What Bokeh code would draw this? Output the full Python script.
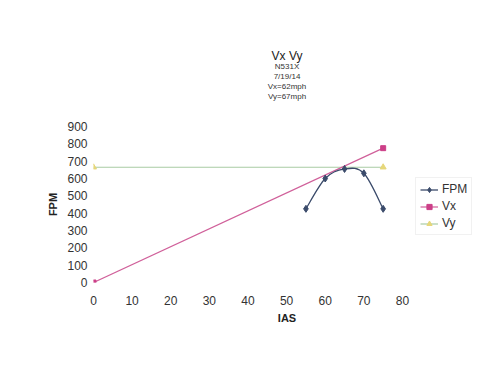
from bokeh.plotting import figure
from bokeh.models import Legend, LegendItem, Range1d, FixedTicker, Title
from bokeh.embed import file_html
from bokeh.resources import INLINE

# Data
fpm_ias = [55, 60, 65, 70, 75]
fpm_vals = [425, 600, 655, 630, 425]
vx_ias = [0, 75]
vx_vals = [0, 775]
vy_ias = [0, 75]
vy_vals = [665, 665]
x_ticks = [0, 10, 20, 30, 40, 50, 60, 70, 80]
y_ticks = [0, 100, 200, 300, 400, 500, 600, 700, 800, 900]
title_text = "Vx Vy"
subtitle_lines = ["N531X", "7/19/14", "Vx=62mph", "Vy=67mph"]
x_label = "IAS"
y_label = "FPM"

FONT = "Liberation Sans"

# frame extends right of the 0-80 axis to hold the legend (no outline drawn)
p = figure(width=484, height=369, frame_width=387, frame_height=156,
           output_backend="svg", toolbar_location=None,
           x_range=Range1d(0, 100.2), y_range=Range1d(0, 900),
           min_border_left=93, min_border_right=4, min_border_top=126, min_border_bottom=87)
p.outline_line_color = None
p.xgrid.grid_line_color = None
p.ygrid.grid_line_color = None
p.background_fill_color = "white"
p.border_fill_color = "white"

for ax in (p.xaxis[0], p.yaxis[0]):
    ax.axis_line_color = None
    ax.major_tick_line_color = None
    ax.minor_tick_line_color = None
    ax.major_tick_out = 0
    ax.major_tick_in = 0
    ax.minor_tick_out = 0
    ax.minor_tick_in = 0
    ax.major_label_text_font = FONT
    ax.major_label_text_font_size = "12px"
    ax.major_label_text_color = "#333333"
    ax.axis_label_text_font = FONT
    ax.axis_label_text_font_size = "11px"
    ax.axis_label_text_font_style = "bold"
    ax.axis_label_text_color = "#222222"
p.xaxis.ticker = FixedTicker(ticks=x_ticks)
p.yaxis.ticker = FixedTicker(ticks=y_ticks)
p.yaxis.axis_label = y_label
p.xaxis.major_label_standoff = 13
p.yaxis.major_label_standoff = 6
p.yaxis.axis_label_standoff = 5

# x axis label centred under the 0-80 part of the frame
p.add_layout(Title(text=x_label, align="center", offset=-38, text_font=FONT, text_font_size="11px",
                   text_font_style="bold", text_color="#222222", standoff=5), "below")

# Smoothed FPM line (Catmull-Rom style bezier segments through the data points)
n = len(fpm_ias)
x0s, y0s, x1s, y1s, cx0s, cy0s, cx1s, cy1s = [], [], [], [], [], [], [], []
for i in range(n - 1):
    xa, ya = fpm_ias[i], fpm_vals[i]
    xb, yb = fpm_ias[i + 1], fpm_vals[i + 1]
    xp, yp = (fpm_ias[i - 1], fpm_vals[i - 1]) if i > 0 else (xa, ya)
    xn, yn = (fpm_ias[i + 2], fpm_vals[i + 2]) if i + 2 < n else (xb, yb)
    x0s.append(xa); y0s.append(ya); x1s.append(xb); y1s.append(yb)
    cx0s.append(xa + (xb - xp) / 6.0); cy0s.append(ya + (yb - yp) / 6.0)
    cx1s.append(xb - (xn - xa) / 6.0); cy1s.append(yb - (yn - ya) / 6.0)

FPM_C = "#3b4b6b"
VX_C = "#d0609a"
VX_M = "#cc3f88"
VY_C = "#a9cba3"
VY_M = "#e6d77a"

vy_line = p.line(vy_ias, vy_vals, line_color=VY_C, line_width=1.2)
vy_pts = p.scatter(vy_ias, vy_vals, marker="triangle", size=6, fill_color=VY_M, line_color=VY_M)
vx_line = p.line(vx_ias, vx_vals, line_color=VX_C, line_width=1.2)
vx_pts = p.scatter(vx_ias, vx_vals, marker="square", size=5, fill_color=VX_M, line_color=VX_M)
fpm_line = p.bezier(x0=x0s, y0=y0s, x1=x1s, y1=y1s, cx0=cx0s, cy0=cy0s, cx1=cx1s, cy1=cy1s,
                    line_color=FPM_C, line_width=1.3)
fpm_pts = p.scatter(fpm_ias, fpm_vals, marker="diamond", size=7, fill_color=FPM_C, line_color=FPM_C)

legend = Legend(items=[
    LegendItem(label="FPM", renderers=[fpm_line, fpm_pts]),
    LegendItem(label="Vx", renderers=[vx_line, vx_pts]),
    LegendItem(label="Vy", renderers=[vy_line, vy_pts]),
], location=(322, 47))
legend.label_text_font = FONT
legend.label_text_font_size = "12px"
legend.label_text_color = "#333333"
legend.glyph_width = 18
legend.glyph_height = 13
legend.label_height = 13
legend.spacing = 3
legend.padding = 4
legend.margin = 0
legend.label_standoff = 4
legend.border_line_color = "#e4e4e4"
legend.background_fill_alpha = 0
p.add_layout(legend)

# spacer between the subtitle block and the plot (zero-width character, nothing visible)
p.add_layout(Title(text="\u200b", text_font_size="1px", standoff=23), "above")
# Title and subtitle lines (first added sits closest to the plot)
for t in reversed(subtitle_lines):
    p.add_layout(Title(text=t, align="center", offset=-28, text_font=FONT, text_font_size="8px",
                       text_font_style="normal", text_color="#333333", standoff=-1), "above")
p.add_layout(Title(text=title_text, align="center", offset=-28, text_font=FONT, text_font_size="12px",
                   text_font_style="normal", text_color="#222222", standoff=-4), "above")

open("out.html", "w").write(file_html(p, INLINE))
